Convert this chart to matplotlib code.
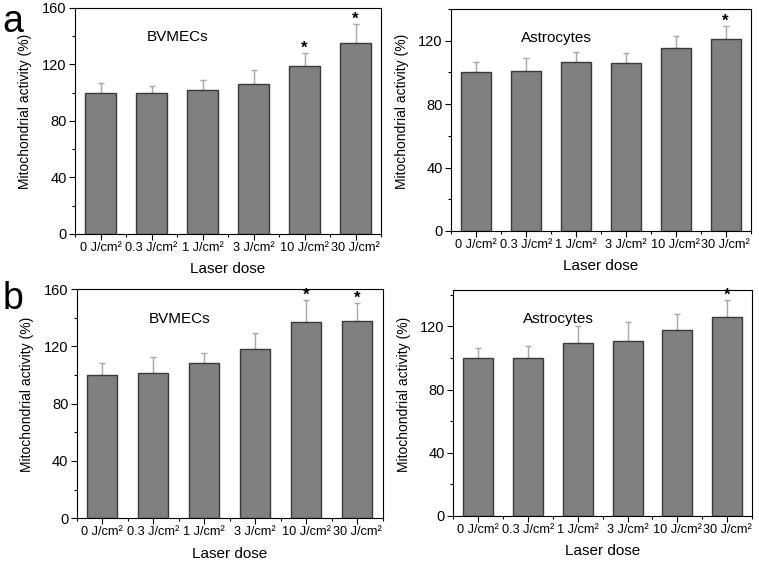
import matplotlib.pyplot as plt
from matplotlib.ticker import MultipleLocator

plt.rcParams['font.family'] = ['Liberation Sans', 'DejaVu Sans']

# laser doses on the x axis
doses = ['0 J/cm²', '0.3 J/cm²', '1 J/cm²', '3 J/cm²', '10 J/cm²', '30 J/cm²']

# panel a
a_bv = [100, 99.8, 102, 106, 118.8, 135.3]
a_bv_err = [7, 5.2, 7.2, 9.7, 9.2, 13.2]
a_bv_star = [4, 5]
a_as = [100, 101, 106.8, 106.2, 115.4, 121.3]
a_as_err = [6.8, 8.1, 5.9, 6.0, 7.7, 8.1]
a_as_star = [5]

# panel b
b_bv = [100, 101.7, 108.7, 117.9, 137.1, 137.8]
b_bv_err = [8.6, 10.9, 6.9, 11.6, 15.0, 12.5]
b_bv_star = [4, 5]
b_as = [100, 100.1, 109.3, 111, 117.9, 126]
b_as_err = [6.3, 7.5, 10.9, 12.0, 9.8, 10.7]
b_as_star = [5]

fig = plt.figure(figsize=(7.59, 5.62), dpi=100)


def panel(rect, vals, errs, stars, title, ymax, yticks):
    ax = fig.add_axes(rect)
    x = range(len(doses))
    ax.bar(x, vals, width=0.6, color='#808080', edgecolor='#3a3a3a', linewidth=1.0, zorder=2)
    ax.errorbar(x, vals, yerr=[[0] * len(errs), errs], fmt='none', ecolor='#a8a8a8',
                elinewidth=1.0, capsize=2, capthick=1.0, zorder=1)
    for i in stars:
        ax.annotate('*', (i, vals[i] + errs[i]), xytext=(0, -2), textcoords='offset points',
                    ha='center', va='bottom', fontsize=12, fontweight='bold')
    ax.set_xlim(-0.5, len(doses) - 0.5)
    ax.set_ylim(0, ymax)
    ax.set_xticks(list(x))
    ax.set_xticklabels(doses, fontsize=9.2)
    ax.xaxis.set_minor_locator(MultipleLocator(0.5))
    ax.set_yticks(yticks)
    ax.yaxis.set_minor_locator(MultipleLocator(20))
    ax.tick_params(axis='both', which='major', length=4, width=0.8, pad=2, direction='out')
    ax.tick_params(axis='both', which='minor', length=2, width=0.8, direction='out')
    ax.tick_params(axis='y', labelsize=10.5)
    for s in ax.spines.values():
        s.set_linewidth(0.8)
    ax.set_xlabel('Laser dose', fontsize=11)
    ax.xaxis.set_label_coords(0.5, -0.125)
    ax.set_ylabel('Mitochondrial activity (%)', fontsize=10)
    ax.yaxis.set_label_coords(-0.14, 0.54)
    ax.text(0.235, 0.87, title, transform=ax.transAxes, ha='left', va='center', fontsize=11)
    return ax


panel([0.099, 0.584, 0.403, 0.402], a_bv, a_bv_err, a_bv_star, 'BVMECs', 160, [0, 40, 80, 120, 160])
panel([0.594, 0.589, 0.395, 0.395], a_as, a_as_err, a_as_star, 'Astrocytes', 140, [0, 40, 80, 120])
panel([0.101, 0.078, 0.403, 0.4075], b_bv, b_bv_err, b_bv_star, 'BVMECs', 160, [0, 40, 80, 120, 160])
panel([0.597, 0.082, 0.394, 0.402], b_as, b_as_err, b_as_star, 'Astrocytes', 143, [0, 40, 80, 120])

fig.text(0.003, 0.943, 'a', fontsize=27, va='baseline')
fig.text(0.003, 0.450, 'b', fontsize=27, va='baseline')

fig.savefig('out.png', dpi=100)
